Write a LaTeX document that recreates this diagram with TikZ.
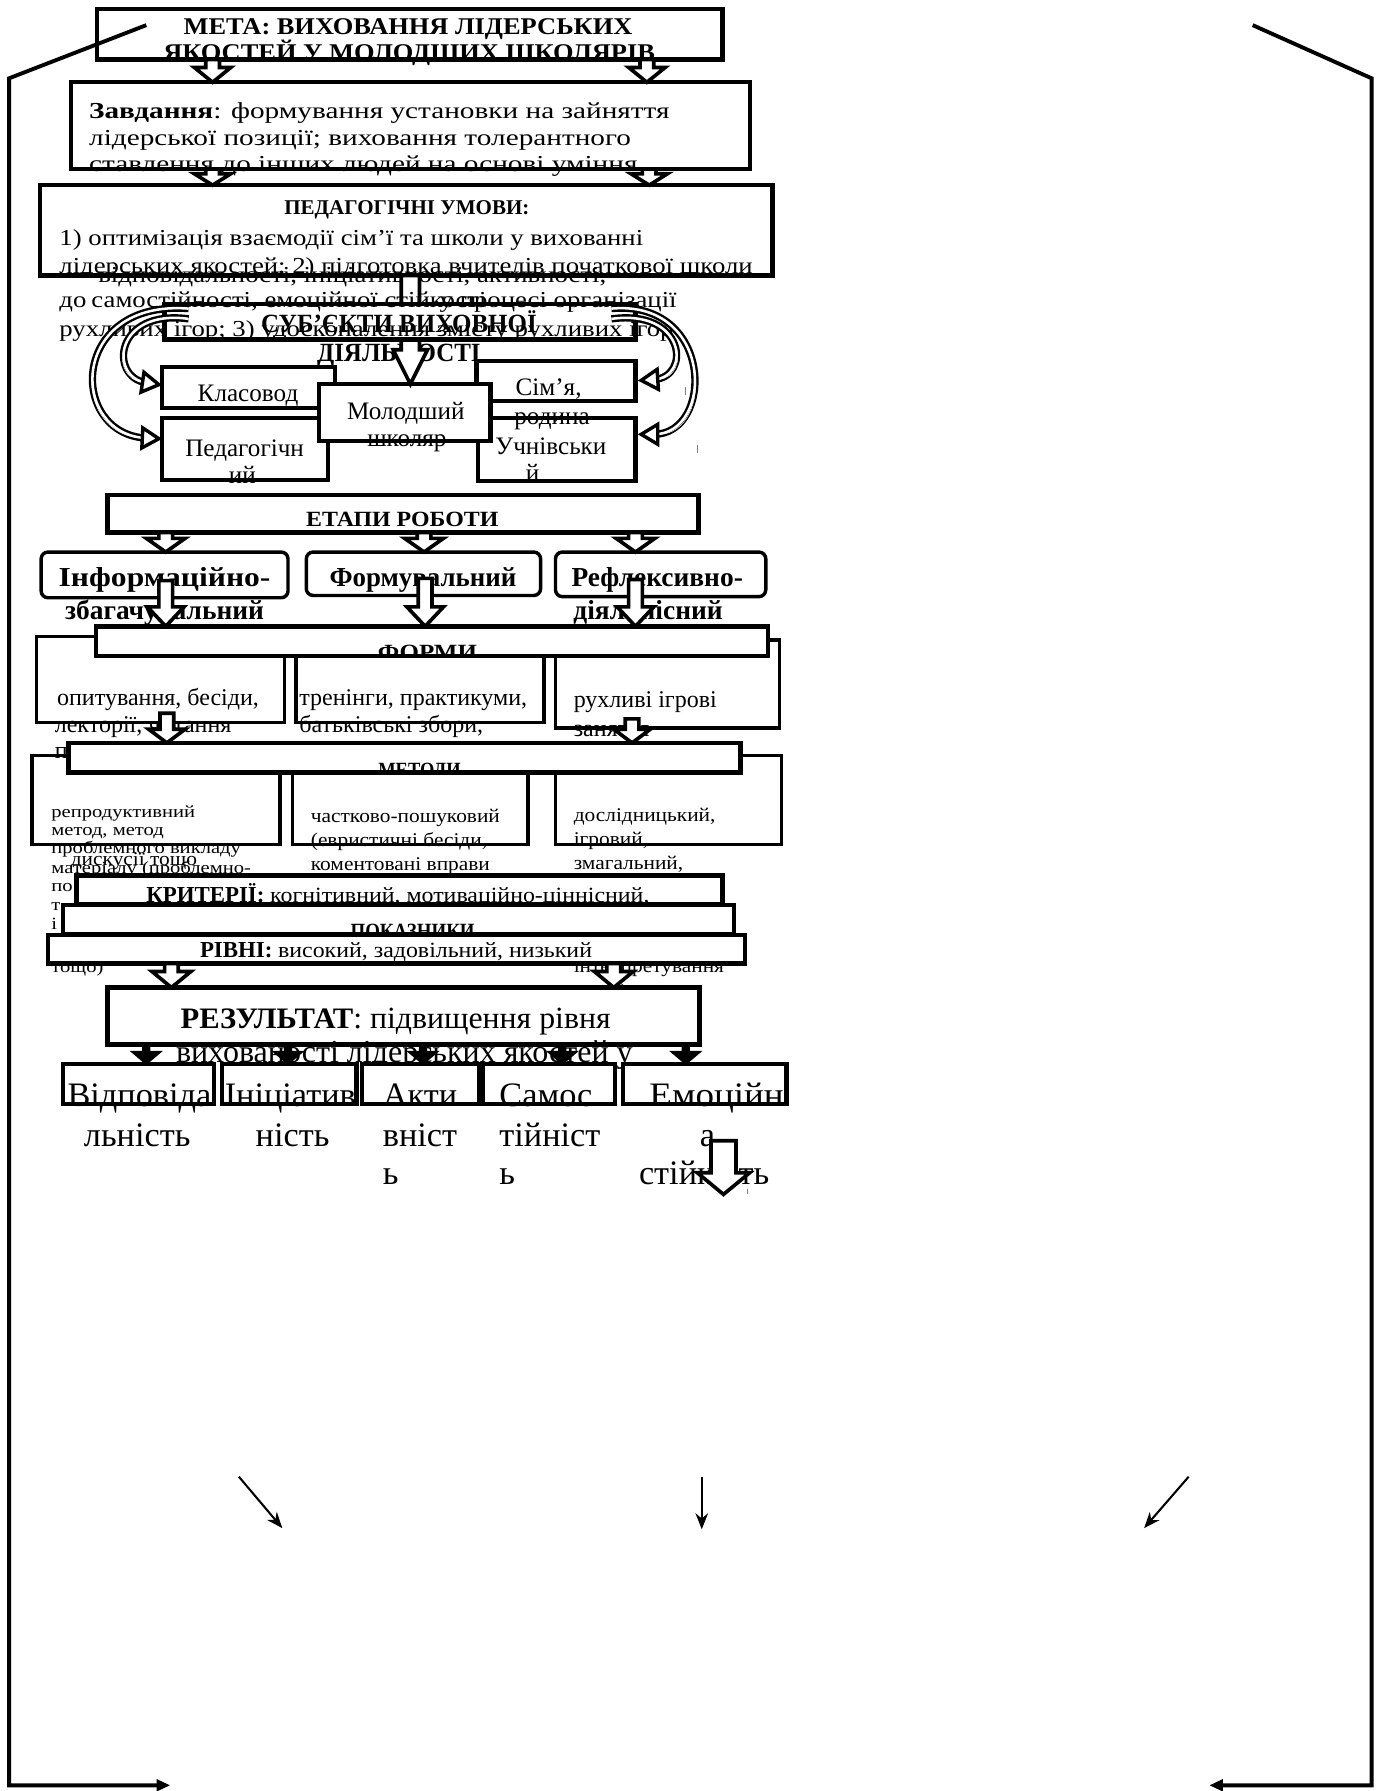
\documentclass[tikz,border=0pt]{standalone}
\usepackage{fontspec}
\setmainfont{Liberation Serif}
\usepackage{graphicx}
\usetikzlibrary{arrows.meta,calc}
\newcommand{\fsz}[1]{\fontsize{#1}{#1}\selectfont}
\newcommand{\fMeta}{\fsz{10.5}\bfseries}
\newcommand{\fZav}{\fsz{10}}
\newcommand{\fUh}{\fsz{9.2}\bfseries}
\newcommand{\fSub}{\fsz{11.5}\bfseries}
\newcommand{\fSj}{\fsz{11}}
\newcommand{\fHd}{\fsz{9.5}\bfseries}
\newcommand{\fSt}{\fsz{12}\bfseries}
\newcommand{\fFo}{\fsz{10.5}}
\newcommand{\fMl}{\fsz{7.5}}
\newcommand{\fMm}{\fsz{8.5}}
\newcommand{\fQ}{\fsz{15}}
\newcommand{\txtl}[7][base west]{\node[txt,anchor=#1] (#2) at (#3,#4) {#5\scalebox{#6}[1]{#7}};}
\newcommand{\boxn}[6][]{\node[boxst,#1,minimum width={(#5-#3)*0.5pt},minimum height={(#6-#4)*0.5pt},anchor=north west] (#2) at (#3,#4) {};}
\newcommand{\blockar}[7][]{%
  \coordinate (bxx) at (#2,0);
  \draw[barst,#1] let \p1=(#3 -| bxx), \p2=(#4 -| bxx) in
   (\x1-#5*0.5pt,\y1) -- (\x1+#5*0.5pt,\y1) -- (\x1+#5*0.5pt,\y2+#7*0.5pt) -- (\x1+#6*0.5pt,\y2+#7*0.5pt)
   -- (\x1,\y2) -- (\x1-#6*0.5pt,\y2+#7*0.5pt) -- (\x1-#5*0.5pt,\y2+#7*0.5pt) -- cycle;}
\newcommand{\curvar}[4]{%
  \draw[line width=3.2pt, shorten >=7pt] (#1) .. controls #2 and #3 .. (#4);
  \draw[white, line width=1.1pt, shorten >=7pt] (#1) .. controls #2 and #3 .. (#4);
  \draw[white, line width=0.2pt, -{Triangle[open, color=black, fill=white, line width=1.5pt, length=9.5pt, width=11pt]}] (#1) .. controls #2 and #3 .. (#4);}
\begin{document}
\begin{tikzpicture}[x=0.5pt,y=-0.5pt,
  txt/.style={inner sep=0pt,outer sep=0pt},
  boxst/.style={draw,fill=white,line width=1.9pt,inner sep=0pt,outer sep=0pt},
  thinbox/.style={line width=1.4pt},
  rbox/.style={rounded corners=3pt,line width=1.5pt},
  barst/.style={draw,fill=white,line width=1.6pt,line join=miter},
  blk/.style={fill=black,line width=0.6pt},
  framest/.style={line width=1.7pt,line join=miter},
  thinarr/.style={line width=0.9pt,-{Stealth[length=7pt,width=5.5pt]}},
  tickst/.style={line width=0.5pt,gray}]
\useasboundingbox (0,0) rectangle (1206,1567);
\fill[white] (0,0) rectangle (1206,1567);
% bottom thin arrows
\coordinate (a1s) at (209,1292); \coordinate (a1e) at (247,1337);
\coordinate (a2s) at (614,1292); \coordinate (a2e) at (614,1338);
\coordinate (a3s) at (1040,1292); \coordinate (a3e) at (1001,1337);
\draw[thinarr] (a1s) -- (a1e);
\draw[thinarr] (a2s) -- (a2e);
\draw[thinarr] (a3s) -- (a3e);
% META
\boxn{meta}{85}{8}{632}{52}
\txtl[base]{m1}{357}{30}{\fMeta}{1.1}{МЕТА: ВИХОВАННЯ ЛІДЕРСЬКИХ}
\txtl[base]{m2}{358}{53}{\fMeta}{1.1}{ЯКОСТЕЙ У МОЛОДШИХ ШКОЛЯРІВ}
% outer frame (drawn over the goal box, as in the reference)
\coordinate (fl0) at (128,22); \coordinate (fl1) at (8,68.5);
\coordinate (fl2) at (8,1562); \coordinate (fl3) at (149,1562);
\coordinate (fr0) at (1096,22); \coordinate (fr1) at (1200,68.5);
\coordinate (fr2) at (1200,1562); \coordinate (fr3) at (1058,1562);
\draw[framest,-{Triangle[length=6pt,width=5pt]}] (fl0) -- (fl1) -- (fl2) -- (fl3);
\draw[framest,-{Triangle[length=6pt,width=5pt]}] (fr0) -- (fr1) -- (fr2) -- (fr3);
% Zavdannya
\boxn{zav}{62}{72}{656}{148}
\blockar{186}{meta.south}{zav.north}{6}{16}{13}
\blockar{566}{meta.south}{zav.north}{6}{16}{13}
\txtl{z1}{78}{104}{\fZav}{1.28}{\textbf{Завдання}: формування установки на зайняття}
\txtl{z2}{78}{127}{\fZav}{1.28}{лідерської позиції; виховання толерантного}
\txtl{z3}{78}{150}{\fZav}{1.28}{ставлення до інших людей на основі уміння}
% Umovy
\boxn{umovy}{35}{162}{676}{241}
\blockar{186}{zav.south}{umovy.north}{6}{16}{10}
\blockar{568}{zav.south}{umovy.north}{6}{16}{10}
\txtl[base]{u0}{356}{188}{\fUh}{1.0}{ПЕДАГОГІЧНІ УМОВИ:}
\txtl{u1}{52}{215}{\fZav}{1.17}{1) оптимізація взаємодії сім’ї та школи у вихованні}
\txtl{u2}{52}{239}{\fZav}{1.17}{лідерських якостей; 2) підготовка вчителів початкової школи}
\txtl{ov1}{86}{247}{\fZav}{1.17}{відповідальності, ініціативності, активності,}
% subjects
\boxn{klas}{142}{321}{293}{357}
\boxn{ped}{142}{366}{287}{420}
\boxn{sim}{417}{316}{556}{351}
\boxn{uch}{418}{366}{556}{421}
\boxn{mol}{279}{336}{429}{386}
\txtl[base]{k1}{217}{351}{\fSj}{1.0}{Класовод}
\txtl[base]{p1}{214}{399}{\fSj}{1.0}{Педагогічн}
\txtl[base]{p2}{212}{423}{\fSj}{1.0}{ий}
\txtl[base]{si1}{480}{346}{\fSj}{1.0}{Сім’я,}
\txtl[base]{si2}{483}{371}{\fSj}{1.0}{родина}
\txtl[base]{uc1}{482}{398}{\fSj}{1.0}{Учнівськи}
\txtl[base]{uc2}{466}{421}{\fSj}{1.0}{й}
\txtl[base]{mo1}{355}{367}{\fSj}{1.0}{Молодший}
\txtl[base]{mo2}{356}{391}{\fSj}{1.0}{школяр}
\txtl[base]{s2}{349}{316}{\fSub}{0.95}{ДІЯЛЬНОСТІ}
\blockar{359}{umovy.south}{mol.north}{8}{15}{30}
\boxn{sub}{144}{266}{556}{297}
\txtl[base]{s1}{349}{291}{\fSub}{0.95}{СУБ’ЄКТИ ВИХОВНОЇ}
\txtl{u3a}{52}{269}{\fZav}{1.17}{до}
\txtl{ov2}{80}{269}{\fZav}{1.17}{самостійності, емоційної стійкості}
\txtl[base east]{u3b}{592}{269}{\fZav}{1.17}{у процесі організації}
\txtl{u4}{52}{294}{\fZav}{1.17}{рухливих ігор; 3) удосконалення змісту рухливих ігор}
% curved arrows
\coordinate (cl1s) at (165,270); \coordinate (cl1e) at ($(ped.north west)+(0,18)$);
\coordinate (cl2s) at (165,279); \coordinate (cl2e) at ($(klas.north west)+(0,16)$);
\coordinate (cr1s) at (535,270); \coordinate (cr1e) at ($(uch.north east)+(2,14)$);
\coordinate (cr2s) at (535,279); \coordinate (cr2e) at ($(sim.north east)+(2,17)$);
\curvar{cl1s}{(60,262)}{(60,380)}{cl1e}
\curvar{cl2s}{(100,270)}{(95,330)}{cl2e}
\curvar{cr1s}{(625,262)}{(625,380)}{cr1e}
\curvar{cr2s}{(600,270)}{(605,330)}{cr2e}
\draw[tickst] (600,339) -- (600,346);
\draw[tickst] (610,389) -- (610,396);
% stages
\boxn{etapy}{94}{433}{611}{466}
\txtl[base]{e1}{352}{461}{\fHd}{1.1}{ЕТАПИ РОБОТИ}
\boxn[rbox]{inf}{36}{483}{252}{523}
\boxn[rbox]{form}{268}{483}{473}{521}
\boxn[rbox]{refl}{486}{483}{670}{522}
\blockar{145}{etapy.south}{inf.north}{6}{17}{12}
\blockar{371}{etapy.south}{form.north}{6}{17}{12}
\blockar{556}{etapy.south}{refl.north}{6}{17}{12}
\txtl[base]{i1}{144}{513}{\fSt}{1.15}{Інформаційно-}
\txtl[base]{f1}{370}{513}{\fSt}{0.98}{Формувальний}
\txtl[base]{r1}{575}{513}{\fSt}{1.0}{Рефлексивно-}
\txtl[base]{i2}{144}{542}{\fSt}{1.0}{збагачувальний}
\txtl[base]{r2}{567}{542}{\fSt}{1.0}{діяльнісний}
% forms
\boxn[thinbox]{fL}{32}{557}{249}{632}
\boxn[thinbox]{fM}{259}{557}{476}{632}
\boxn[thinbox]{fR}{486}{560}{682}{637}
\boxn{formy}{84}{548}{672}{574}
\coordinate (sa1) at ($(inf.south)+(0,-15)$);
\coordinate (sa2) at ($(form.south)+(0,-15)$);
\coordinate (sa3) at ($(refl.south)+(0,-15)$);
\blockar{145}{sa1}{formy.north}{6}{16}{17}
\blockar{372}{sa2}{formy.north}{6}{16}{17}
\blockar{556}{sa3}{formy.north}{6}{16}{17}
\begin{scope}
\clip (84,548) rectangle (672,574);
\txtl[base]{fo}{374}{577}{\fHd}{1.15}{ФОРМИ}
\end{scope}
\txtl{fl1}{50}{617}{\fFo}{1.0}{опитування, бесіди,}
\txtl{fl2}{48}{641}{\fFo}{1.0}{лекторії, читання}
\txtl{fm1}{262}{617}{\fFo}{1.0}{тренінги, практикуми,}
\txtl{fm2}{262}{641}{\fFo}{1.0}{батьківські збори,}
\txtl{fr1}{502}{619}{\fFo}{1.0}{рухливі ігрові}
\txtl{fr2}{502}{644}{\fFo}{1.0}{заняття}
% methods
\boxn[thinbox]{mL}{28}{661}{245}{739}
\boxn[thinbox]{mM}{256}{661}{462}{739}
\boxn[thinbox]{mR}{486}{661}{684}{739}
\boxn{metody}{60}{650}{648}{676}
\txtl{fl3}{48}{664}{\fFo}{1.0}{п}
\coordinate (fa1) at ($(fL.south)+(0,-8)$);
\coordinate (fa2) at ($(fR.south)+(0,-8)$);
\blockar{146}{fa1}{metody.north}{6}{16}{12}
\blockar{553}{fa2}{metody.north}{6}{16}{12}
\begin{scope}
\clip (60,650) rectangle (648,677);
\txtl[base]{me}{367}{680}{\fHd}{0.85}{МЕТОДИ}
\end{scope}
\txtl{ml1}{45}{715}{\fMl}{1.2}{репродуктивний}
\txtl{ml2}{45}{731}{\fMl}{1.2}{метод, метод}
\txtl{ml3}{45}{747}{\fMl}{1.2}{проблемного викладу}
\txtl{ml4}{45}{764}{\fMl}{1.2}{матеріалу (проблемно-}
\txtl{ml5}{45}{780}{\fMl}{1.2}{по}
\txtl{ml6}{45}{797}{\fMl}{1.2}{т}
\txtl{ml7}{45}{813}{\fMl}{1.2}{і}
\txtl{ml8}{45}{851}{\fMl}{1.2}{тощо)}
\txtl{dis}{62}{757}{\fMm}{1.1}{дискусії тощо}
\txtl{mm1}{272}{720}{\fMm}{1.1}{частково-пошуковий}
\txtl{mm2}{272}{741}{\fMm}{1.1}{(евристичні бесіди,}
\txtl{mm3}{272}{762}{\fMm}{1.1}{коментовані вправи}
\txtl{mr1}{502}{719}{\fMm}{1.1}{дослідницький,}
\txtl{mr2}{502}{740}{\fMm}{1.1}{ігровий,}
\txtl{mr3}{502}{761}{\fMm}{1.1}{змагальний,}
\txtl{mr4}{502}{851}{\fMm}{1.1}{інтерпретування}
\txtl{mr5}{502}{873}{\fMm}{1.1}{тощо)}
% criteria, indicators, levels
\boxn{kryt}{67}{766}{632}{791}
\txtl{kr}{128}{790}{}{1.0}{{\fsz{10}\bfseries КРИТЕРІЇ:} \scalebox{1.1}[1]{\fsz{9.5}когнітивний, мотиваційно-ціннісний,}}
\boxn{pokaz}{55}{792}{642}{817}
\begin{scope}
\clip (55,792) rectangle (642,818);
\txtl[base]{po}{361}{821}{\fHd}{0.87}{ПОКАЗНИКИ}
\end{scope}
\boxn{rivni}{42}{818}{652}{843}
\txtl{rv}{175}{838}{}{1.0}{{\fsz{10}\bfseries РІВНІ:} \scalebox{1.1}[1]{\fsz{9.5}високий, задовільний, низький}}
% result
\boxn{rez}{94}{864}{612}{914}
\blockar{150}{rivni.south}{rez.north}{6}{17}{14}
\blockar{537}{rivni.south}{rez.north}{6}{17}{14}
\txtl{rz1}{158}{900}{}{1.03}{{\fsz{13}\bfseries РЕЗУЛЬТАТ}{\fsz{13.5}: підвищення рівня}}
\txtl{rz2}{154}{930}{\fsz{14}}{1.0}{вихованості лідерських якостей у}
% qualities
\boxn{q1}{55}{931}{187}{966}
\boxn{q2}{194}{931}{312}{966}
\boxn{q3}{317}{931}{419}{966}
\boxn{q4}{422}{931}{538}{966}
\boxn{q5}{545}{931}{688}{966}
\blockar[blk]{128}{rez.south}{q1.north}{3}{13}{11}
\blockar[blk]{252}{rez.south}{q2.north}{3}{13}{11}
\blockar[blk]{370}{rez.south}{q3.north}{3}{13}{11}
\blockar[blk]{492}{rez.south}{q4.north}{3}{13}{11}
\blockar[blk]{600}{rez.south}{q5.north}{3}{13}{11}
\txtl[base]{q1a}{122}{968}{\fQ}{1.0}{Відповіда}
\txtl[base]{q1b}{120}{1003}{\fQ}{1.0}{льність}
\txtl[base]{q2a}{254}{968}{\fQ}{1.0}{Ініціатив}
\txtl[base]{q2b}{256}{1003}{\fQ}{1.0}{ність}
\txtl{q3a}{335}{968}{\fQ}{1.0}{Акти}
\txtl{q3b}{335}{1003}{\fQ}{1.0}{вніст}
\txtl{q3c}{335}{1036}{\fQ}{1.0}{ь}
\txtl{q4a}{437}{968}{\fQ}{1.0}{Самос}
\txtl{q4b}{437}{1003}{\fQ}{1.0}{тійніст}
\txtl{q4c}{437}{1036}{\fQ}{1.0}{ь}
\txtl[base]{q5a}{627}{968}{\fQ}{1.08}{Емоційн}
\txtl[base]{q5b}{619}{1003}{\fQ}{1.0}{а}
\txtl[base]{q5c}{616}{1036}{\fQ}{1.0}{стійкість}
\coordinate (ea1) at (633,998); \coordinate (ea2) at (633,1045);
\blockar{633}{ea1}{ea2}{11}{23}{19}
\draw[tickst] (654,1040) -- (654,1045);
\end{tikzpicture}
\end{document}
